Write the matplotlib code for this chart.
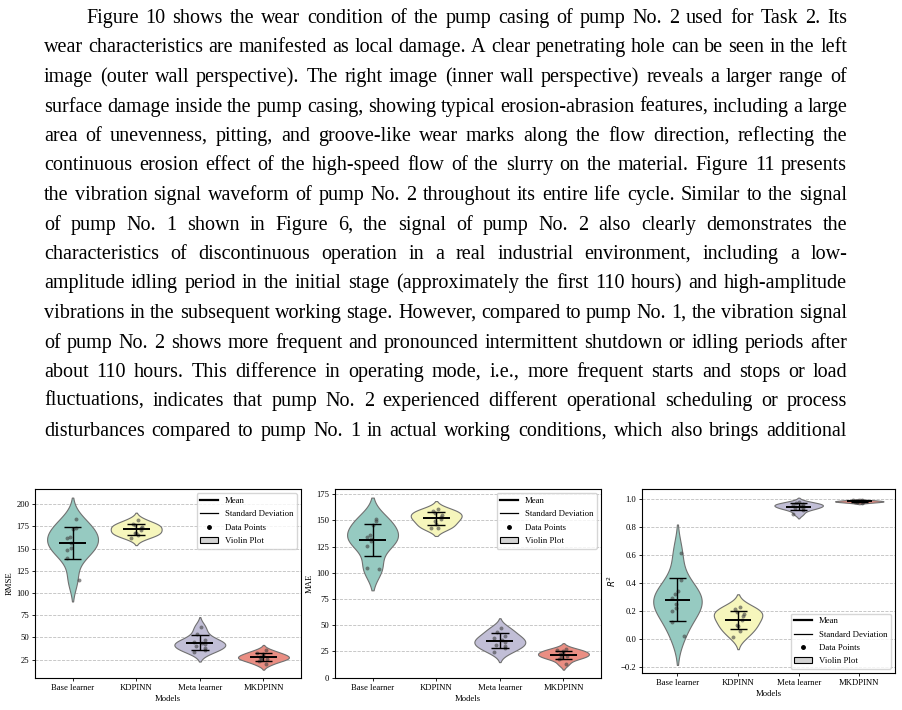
import numpy as np
import pandas as pd
import seaborn as sns
import matplotlib.pyplot as plt
from matplotlib.lines import Line2D
from matplotlib.patches import Patch
from matplotlib.font_manager import FontProperties

plt.rcParams['font.family'] = ['Liberation Serif', 'DejaVu Serif']

models = ["Base learner", "KDPINN", "Meta learner", "MKDPINN"]

# RMSE per run (10 runs per model)
rmse_base = [183, 173, 172.5, 163, 162, 156, 151, 149, 139.5, 115]
rmse_kd = [182.5, 178, 177, 174.5, 173.5, 170.5, 168, 167.5, 165, 162]
rmse_meta = [62, 54, 46.5, 45, 44, 42.5, 40, 38, 36, 33.5]
rmse_mkd = [35.5, 32.5, 31, 29.5, 28, 27, 26, 24.5, 23, 19.5]

# MAE per run
mae_base = [151, 149, 146, 136.5, 134, 132, 130, 125.5, 105, 104]
mae_kd = [160.5, 159, 157, 155, 153.5, 151.5, 149.5, 147, 143, 143]
mae_meta = [47.5, 44, 40, 37.5, 36, 34, 31.5, 30, 28, 24]
mae_mkd = [27.5, 26, 25, 23.5, 22.5, 21.5, 20.5, 19, 18, 13]

# R^2 per run
r2_base = [0.61, 0.42, 0.34, 0.32, 0.29, 0.25, 0.22, 0.20, 0.12, 0.02]
r2_kd = [0.23, 0.21, 0.19, 0.175, 0.16, 0.135, 0.10, 0.09, 0.055, 0.015]
r2_meta = [0.975, 0.965, 0.96, 0.955, 0.95, 0.945, 0.935, 0.93, 0.92, 0.89]
r2_mkd = [0.99, 0.987, 0.984, 0.982, 0.981, 0.979, 0.977, 0.975, 0.973, 0.968]

para_lines = [
    "Figure 10 shows the wear condition of the pump casing of pump No. 2 used for Task 2. Its",
    "wear characteristics are manifested as local damage. A clear penetrating hole can be seen in the left",
    "image (outer wall perspective). The right image (inner wall perspective) reveals a larger range of",
    "surface damage inside the pump casing, showing typical erosion-abrasion features, including a large",
    "area of unevenness, pitting, and groove-like wear marks along the flow direction, reflecting the",
    "continuous erosion effect of the high-speed flow of the slurry on the material. Figure 11 presents",
    "the vibration signal waveform of pump No. 2 throughout its entire life cycle. Similar to the signal",
    "of pump No. 1 shown in Figure 6, the signal of pump No. 2 also clearly demonstrates the",
    "characteristics of discontinuous operation in a real industrial environment, including a low-",
    "amplitude idling period in the initial stage (approximately the first 110 hours) and high-amplitude",
    "vibrations in the subsequent working stage. However, compared to pump No. 1, the vibration signal",
    "of pump No. 2 shows more frequent and pronounced intermittent shutdown or idling periods after",
    "about 110 hours. This difference in operating mode, i.e., more frequent starts and stops or load",
    "fluctuations, indicates that pump No. 2 experienced different operational scheduling or process",
    "disturbances compared to pump No. 1 in actual working conditions, which also brings additional",
]

W, H = 902, 710
fig = plt.figure(figsize=(W / 100, H / 100), dpi=100)

# justified paragraph, word by word
prop = FontProperties(family='Liberation Serif', size=14.5)
renderer = fig.canvas.get_renderer()
left, right, indent = 44, 847, 86
for k, line in enumerate(para_lines):
    words = line.split(" ")
    widths = [renderer.get_text_width_height_descent(w, prop, ismath=False)[0] for w in words]
    x = indent if k == 0 else left
    gap = (right - x - sum(widths)) / (len(words) - 1)
    y = round(23 + 29.5 * k)
    for w, wd in zip(words, widths):
        fig.text(x / W, 1 - y / H, w, fontproperties=prop, va='baseline')
        x += wd + gap


def panel(ax, groups, ylabel, loc):
    df = pd.DataFrame({
        "Models": np.repeat(models, [len(g) for g in groups]),
        "value": np.concatenate(groups),
    })
    sns.violinplot(data=df, x="Models", y="value", hue="Models", palette="Set3",
                   inner=None, density_norm="width", width=0.8, cut=2,
                   linecolor="#707070", linewidth=0.8, legend=False, ax=ax)
    rng = np.random.default_rng(5)
    for i, g in enumerate(groups):
        g = np.asarray(g)
        m, s = g.mean(), g.std()
        ax.scatter(i + rng.uniform(-0.1, 0.1, len(g)), g, s=8, color="#404040",
                   alpha=0.6, linewidths=0, zorder=3)
        ax.hlines(m, i - 0.21, i + 0.21, color="black", lw=1.4, zorder=4)
        ax.vlines(i, m - s, m + s, color="black", lw=1.0, zorder=4)
        ax.hlines([m - s, m + s], i - 0.14, i + 0.14, color="black", lw=1.0, zorder=4)

    ax.set_xlim(-0.59, 3.59)
    ax.set_xlabel("Models", fontsize=6.2, labelpad=2)
    ax.set_ylabel(ylabel, fontsize=6.2, labelpad=2)
    ax.tick_params(labelsize=6.2, length=2, width=0.6, pad=2)
    ax.yaxis.grid(True, linestyle='--', color='gray', alpha=0.5, lw=0.6)
    ax.set_axisbelow(True)
    for sp in ax.spines.values():
        sp.set_linewidth(0.8)

    handles = [
        Line2D([], [], color="black", lw=1.6),
        Line2D([], [], color="black", lw=0.9),
        Line2D([], [], ls="", marker="o", color="black", ms=2.5),
        Patch(facecolor="lightgray", edgecolor="black", lw=0.8),
    ]
    labels = ["Mean", "Standard Deviation", "Data Points", "Violin Plot"]
    ax.legend(handles, labels, loc=loc, fontsize=6.3, labelspacing=0.6)


ax1 = fig.add_axes([35 / W, 1 - 678.3 / H, 266 / W, 189.3 / H])
ax2 = fig.add_axes([335 / W, 1 - 678.3 / H, 266 / W, 189.3 / H])
ax3 = fig.add_axes([641.7 / W, 1 - 673.3 / H, 253.3 / W, 184 / H])

panel(ax1, [rmse_base, rmse_kd, rmse_meta, rmse_mkd], "RMSE", "upper right")
panel(ax2, [mae_base, mae_kd, mae_meta, mae_mkd], "MAE", "upper right")
panel(ax3, [r2_base, r2_kd, r2_meta, r2_mkd], "$R^2$", "lower right")

fig.savefig("out.png", dpi=100)
